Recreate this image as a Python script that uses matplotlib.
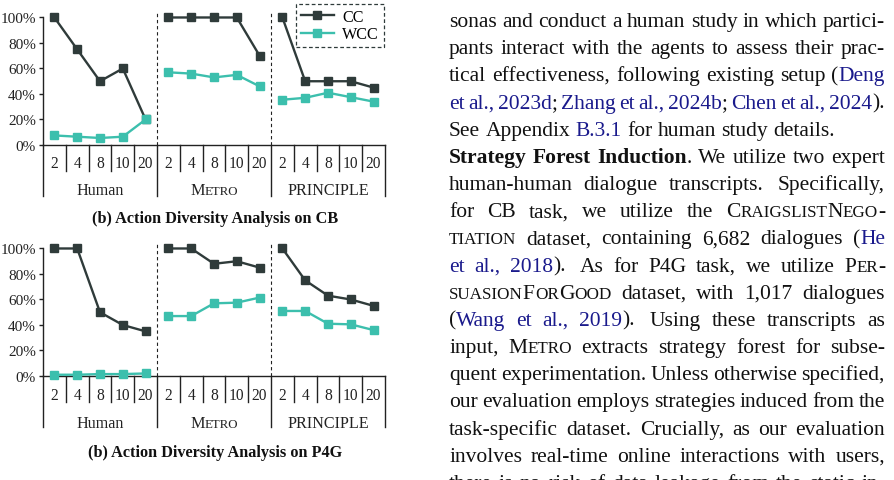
import re
import numpy as np
import matplotlib
matplotlib.use('Agg')
import matplotlib.pyplot as plt

W, H = 894, 481
SERIF = ['Liberation Serif', 'DejaVu Serif']
plt.rcParams['font.family'] = SERIF

# ---- chart data ----
groups = ['Human', 'Metro', 'PRINCIPLE']
k_labels = ['2', '4', '8', '10', '20']

# CB panel, one list per group (Human, Metro, PRINCIPLE)
cb_cc = [[100, 75, 50, 60, 20], [100, 100, 100, 100, 70], [100, 50, 50, 50, 45]]
cb_wcc = [[7.5, 6.5, 5.5, 6.5, 20], [57, 56, 53, 55, 46], [35.5, 37, 41, 37.5, 34]]
# P4G panel
p4g_cc = [[100, 100, 50, 40, 35], [100, 100, 88, 90, 85], [100, 75, 63, 60, 55]]
p4g_wcc = [[1, 1, 1.5, 1.5, 2], [47, 47, 57, 57.5, 61.5], [51, 51, 41, 40.5, 36]]

titles = ['(b) Action Diversity Analysis on CB', '(b) Action Diversity Analysis on P4G']

CC_COL = '#2f3b3a'
WCC_COL = '#3cbfad'
DARK = '#222222'
TXT = '#111111'
LINK = '#1a1a8c'
SC = 0.8  # small caps scale

fig = plt.figure(figsize=(W / 100, H / 100), dpi=100)
renderer = fig.canvas.get_renderer()

_cache = {}


def run_width(s, size, weight='normal'):
    key = (s, size, weight)
    if key not in _cache:
        t = fig.text(0, 0, s, fontsize=size, fontweight=weight, family=SERIF)
        _cache[key] = t.get_window_extent(renderer).width
        t.remove()
    return _cache[key]


def sc_runs(txt, size, weight='normal', color=TXT):
    # fake small caps: lowercase letters become smaller capitals
    runs = []
    for m in re.finditer(r'[a-z]+|[^a-z]+', txt):
        s = m.group()
        if s.islower():
            runs.append((s.upper(), size * SC, weight, color))
        else:
            runs.append((s, size, weight, color))
    return runs


def draw_runs(x, y, runs):
    # x, y in pixels from top-left, y = baseline
    for s, size, weight, color in runs:
        fig.text(x / W, 1 - y / H, s, fontsize=size, fontweight=weight,
                 color=color, family=SERIF, va='baseline', ha='left')
        x += run_width(s, size, weight)
    return x


def runs_width(runs):
    return sum(run_width(s, size, w) for s, size, w, c in runs)


# ---- the two panels ----
AX_L, AX_R = 43, 385
AX_HPX = 133
LAB = 11.6
panels = [
    (146, cb_cc, cb_wcc, titles[0], (22.3, 49, 77), True),
    (377, p4g_cc, p4g_wcc, titles[1], (22.8, 51, 80), False),
]

for y0, cc, wcc, title, offs, show_leg in panels:
    ax = fig.add_axes([AX_L / W, 1 - y0 / H, (AX_R - AX_L) / W, AX_HPX / H])
    handles = []
    for g in range(len(groups)):
        xs = np.arange(5) + 0.5 + 5 * g
        h1, = ax.plot(xs, cc[g], color=CC_COL, lw=1.7, marker='s', ms=5.6,
                      clip_on=False, zorder=3)
        h2, = ax.plot(xs, wcc[g], color=WCC_COL, lw=1.7, marker='s', ms=5.6,
                      clip_on=False, zorder=3)
        handles = [h1, h2]
    ax.set_xlim(0, 15)
    ax.set_ylim(0, 104.3)
    for xv in (5, 10):
        ax.axvline(xv, color=DARK, lw=0.8, ls=(0, (3, 2.5)), zorder=1)

    for side in ('top', 'right'):
        ax.spines[side].set_visible(False)
    ax.spines['left'].set_bounds(0, 100)
    for side in ('left', 'bottom'):
        ax.spines[side].set_linewidth(1.0)
        ax.spines[side].set_color(DARK)

    ax.set_yticks([0, 20, 40, 60, 80, 100])
    ax.set_yticklabels([f'{v}%' for v in [0, 20, 40, 60, 80, 100]])
    ax.tick_params(axis='y', direction='out', length=3, width=1.0, pad=2,
                   labelsize=11, colors=DARK)

    ax.set_xticks(np.arange(15) + 0.5)
    ax.set_xticklabels(k_labels * 3)
    ax.tick_params(axis='x', length=0, pad=offs[0] * 0.72, labelsize=11.2,
                   colors=DARK)
    for lbl in ax.get_xticklabels():
        lbl.set_va('baseline')

    tr = ax.get_xaxis_transform()
    for xv in range(16):
        depth = 51 if xv % 5 == 0 else 26
        ax.plot([xv, xv], [0, -depth / AX_HPX], transform=tr, color=DARK,
                lw=1.0, clip_on=False)

    # group labels (Metro in small caps)
    for g, name in enumerate(groups):
        cx = AX_L + (AX_R - AX_L) * (5 * g + 2.5) / 15
        if name == 'Metro':
            runs = sc_runs(name, LAB, color=DARK)
        else:
            runs = [(name, LAB, 'normal', DARK)]
        wdt = runs_width(runs)
        draw_runs(cx - wdt / 2, y0 + offs[1], runs)

    fig.text(((AX_L + AX_R) / 2 + 1) / W, 1 - (y0 + offs[2]) / H, title,
             fontsize=11.7, fontweight='bold', ha='center', va='baseline',
             color=TXT)

    if show_leg:
        leg = ax.legend(handles, ['CC', 'WCC'], loc='upper right',
                        bbox_to_anchor=(384 / W, 1 - 5 / H),
                        bbox_transform=fig.transFigure, borderaxespad=0,
                        fancybox=False, framealpha=1, edgecolor=CC_COL,
                        prop={'family': SERIF, 'size': 11.6},
                        handlelength=2.1, borderpad=0.3,
                        labelspacing=0.1, handletextpad=0.5)
        leg.get_frame().set_linestyle((0, (3, 2)))
        leg.get_frame().set_linewidth(0.9)

# ---- body text on the right ----
body_lines = [
    "sonas and conduct a human study in which partici-",
    "pants interact with the agents to assess their prac-",
    "tical effectiveness, following existing setup ([Deng]",
    "[et al., 2023d]; [Zhang et al., 2024b]; [Chen et al., 2024]).",
    "See Appendix [B.3.1] for human study details.",
    "*Strategy Forest Induction*. We utilize two expert",
    "human-human dialogue transcripts.  Specifically,",
    "for CB task, we utilize the ^CraigslistNego-^",
    "^tiation^ dataset, containing 6,682 dialogues ([He]",
    "[et al., 2018]).  As for P4G task, we utilize ^Per-^",
    "^suasionForGood^ dataset, with 1,017 dialogues",
    "([Wang et al., 2019]).  Using these transcripts as",
    "input, ^Metro^ extracts strategy forest for subse-",
    "quent experimentation. Unless otherwise specified,",
    "our evaluation employs strategies induced from the",
    "task-specific dataset. Crucially, as our evaluation",
    "involves real-time online interactions with users,",
    "there is no risk of data leakage from the static in-",
]
ragged = {4}
BODY = 15.45
TX_L, TX_R = 449, 885
BASE0, LEAD = 27.0, 27.17


def parse(line):
    segs = []
    for m in re.finditer(r'\[([^\]]*)\]|\*([^*]*)\*|\^([^^]*)\^|([^\[*^]+)', line):
        if m.group(1) is not None:
            segs.append((m.group(1), 'link'))
        elif m.group(2) is not None:
            segs.append((m.group(2), 'bold'))
        elif m.group(3) is not None:
            segs.append((m.group(3), 'sc'))
        else:
            segs.append((m.group(4), 'plain'))
    words, gaps = [[]], []
    for txt, kind in segs:
        for p in re.split(r'( +)', txt):
            if not p:
                continue
            if p.startswith(' '):
                if words[-1]:
                    gaps.append(1.4 if len(p) > 1 else 1.0)
                    words.append([])
            else:
                words[-1].append((p, kind))
    runs = []
    for wd in words:
        r = []
        for p, kind in wd:
            if kind == 'sc':
                r += sc_runs(p, BODY)
            elif kind == 'bold':
                r.append((p, BODY, 'bold', TXT))
            elif kind == 'link':
                r.append((p, BODY, 'normal', LINK))
            else:
                r.append((p, BODY, 'normal', TXT))
        runs.append(r)
    return runs, gaps


for i, line in enumerate(body_lines):
    words, gaps = parse(line)
    y = BASE0 + i * LEAD
    widths = [runs_width(r) for r in words]
    if i in ragged or not gaps:
        unit = 0.25 * BODY * 100 / 72
    else:
        unit = (TX_R - TX_L - sum(widths)) / sum(gaps)
    x = TX_L
    for j, r in enumerate(words):
        draw_runs(x, y, r)
        x += widths[j]
        if j < len(gaps):
            x += unit * gaps[j]

fig.savefig('out.png', dpi=100)
